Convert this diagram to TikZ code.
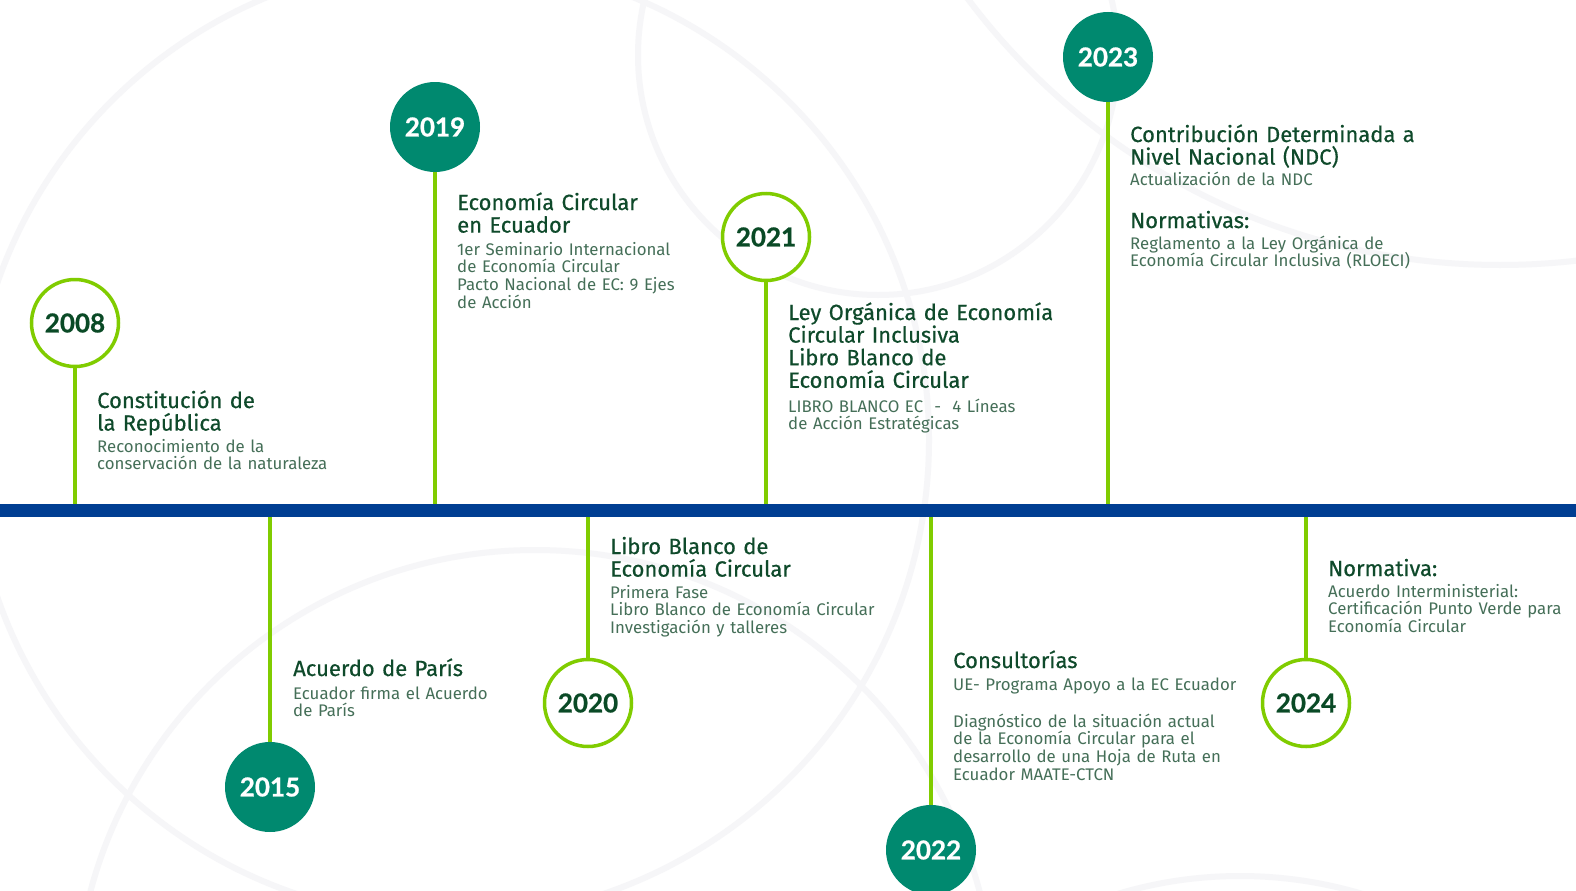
\documentclass[tikz,border=0pt]{standalone}
\usepackage{fontspec}
\newfontfamily\titlef[FakeBold=0.5]{Fira Sans}
\newfontfamily\bodyf{Fira Sans}
\newfontfamily\yearf[BoldFeatures={FakeBold=0.8}]{Lato}
\definecolor{teal}{HTML}{00896F}
\definecolor{lime}{HTML}{80CC00}
\definecolor{band}{HTML}{003E92}
\definecolor{tgreen}{HTML}{0F4A2B}
\definecolor{bgreen}{HTML}{456F58}
\definecolor{ygreen}{HTML}{0A4A26}
\definecolor{faint}{HTML}{F6F6F8}
\tikzset{
  bgarc/.style={draw=faint,line width=6pt},
  yearfill/.style={circle,fill=teal,minimum size=90pt,inner sep=0pt,text=white,font=\yearf\bfseries\fontsize{26}{26}\selectfont},
  yearring/.style={circle,fill=white,draw=lime,line width=3.5pt,minimum size=87pt,inner sep=0pt,text=ygreen,font=\yearf\bfseries\fontsize{26}{26}\selectfont},
  stem/.style={draw=lime,line width=4pt},
  ttl/.style={anchor=base west,align=left,inner sep=0pt,text width=420pt,text=tgreen,font=\titlef\fontsize{22}{22.6}\selectfont},
  bdy/.style={anchor=base west,align=left,inner sep=0pt,text width=420pt,text=bgreen,font=\bodyf\fontsize{16.8}{17.8}\selectfont},
}
\begin{document}
\begin{tikzpicture}[x=1pt,y=-1pt]
\useasboundingbox (0,0) rectangle (1576,891);
\clip (0,0) rectangle (1576,891);
\fill[white] (0,0) rectangle (1576,891);
% background arcs
\draw[bgarc] (450,440) circle[radius=479pt];
\draw[bgarc] (535,1010) circle[radius=460pt];
\draw[bgarc] (878,55) circle[radius=240pt];
\draw[bgarc] (1500,-400) circle[radius=665pt];
\draw[bgarc] (1240,1300) circle[radius=424pt];
% band
\coordinate (bandtop) at (0,504);
\coordinate (bandbot) at (0,517);
\fill[band] (0,504) rectangle (1576,517);
% circles
\node[yearring] (c2008) at (75,323) {2008};
\node[yearfill] (c2015) at (270,787) {2015};
\node[yearfill] (c2019) at (435,127) {2019};
\node[yearring] (c2020) at (588,703) {2020};
\node[yearring] (c2021) at (766,237) {2021};
\node[yearfill] (c2022) at (931,850) {2022};
\node[yearfill] (c2023) at (1108,57) {2023};
\node[yearring] (c2024) at (1306,703) {2024};
% stems
\draw[stem] (c2008.south) -- (c2008.south |- bandtop);
\draw[stem] (c2019.south) -- (c2019.south |- bandtop);
\draw[stem] (c2021.south) -- (c2021.south |- bandtop);
\draw[stem] (c2023.south) -- (c2023.south |- bandtop);
\draw[stem] (c2015.north) -- (c2015.north |- bandbot);
\draw[stem] (c2020.north) -- (c2020.north |- bandbot);
\draw[stem] (c2022.north) -- (c2022.north |- bandbot);
\draw[stem] (c2024.north) -- (c2024.north |- bandbot);
% texts
\node[ttl] (t2008) at (97,408) {Constitución de\\la República};
\node[bdy] (b2008) at (97,452) {Reconocimiento de la\\conservación de la naturaleza};
\node[ttl] (t2019) at (457,210) {Economía Circular\\en Ecuador};
\node[bdy] (b2019) at (457,255) {1er Seminario Internacional\\de Economía Circular\\Pacto Nacional de EC: 9 Ejes\\de Acción};
\node[ttl] (t2021) at (788,320) {Ley Orgánica de Economía\\Circular Inclusiva\\Libro Blanco de\\Economía Circular};
\node[bdy] (b2021) at (788,412) {LIBRO BLANCO EC~~-~~4 Líneas\\de Acción Estratégicas};
\node[ttl] (t2023) at (1130,142) {Contribución Determinada a\\Nivel Nacional (NDC)};
\node[bdy] (b2023) at (1130,185) {Actualización de la NDC};
\node[ttl] (t2023b) at (1130,228) {Normativas:};
\node[bdy] (b2023b) at (1130,249) {Reglamento a la Ley Orgánica de\\Economía Circular Inclusiva (RLOECI)};
\node[ttl] (t2015) at (293,676) {Acuerdo de París};
\node[bdy] (b2015) at (293,699) {Ecuador firma el Acuerdo\\de París};
\node[ttl] (t2020) at (610,554) {Libro Blanco de\\Economía Circular};
\node[bdy] (b2020) at (610,598) {Primera Fase\\Libro Blanco de Economía Circular\\Investigación y talleres};
\node[ttl] (t2022) at (953,668) {Consultorías};
\node[bdy] (b2022) at (953,690) {UE- Programa Apoyo a la EC Ecuador};
\node[bdy] (b2022b) at (953,727) {Diagnóstico de la situación actual\\de la Economía Circular para el\\desarrollo de una Hoja de Ruta en\\Ecuador MAATE-CTCN};
\node[ttl] (t2024) at (1328,576) {Normativa:};
\node[bdy] (b2024) at (1328,597) {Acuerdo Interministerial:\\Certificación Punto Verde para\\Economía Circular};
\end{tikzpicture}
\end{document}
